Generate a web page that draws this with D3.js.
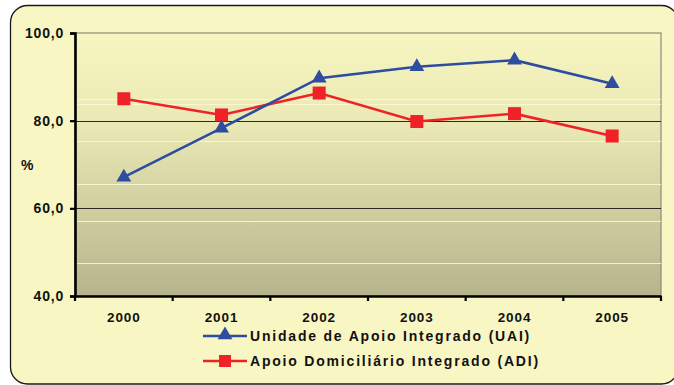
<!DOCTYPE html>
<html>
<head>
<meta charset="utf-8">
<script src="https://cdn.jsdelivr.net/npm/d3@7"></script>
<style>
  html, body { margin: 0; padding: 0; background: #ffffff; }
  svg { display: block; }
  text { font-family: Arial, "Liberation Sans", sans-serif; font-weight: bold; fill: #111; }
</style>
</head>
<body>
<svg id="chart" width="674" height="385"></svg>
<script>
// Years shown on the category axis
const years = ["2000", "2001", "2002", "2003", "2004", "2005"];
// Percentage for each service, one value per year
const uaiValues = [67.1, 78.3, 89.7, 92.3, 93.8, 88.4];
const adiValues = [85.0, 81.3, 86.3, 79.8, 81.6, 76.5];
// Series names used in the legend
const seriesNames = ["Unidade de Apoio Integrado (UAI)", "Apoio Domiciliário Integrado (ADI)"];
// Y-axis ticks
const yTicks = [40, 60, 80, 100];
// Light stripe lines inside the plot background
const stripeLevels = [84.9, 83.8, 75.4, 65.6, 57.2, 47.6];

const svg = d3.select("#chart");
const W = 674, H = 385;
const margin = { left: 75, right: 13, top: 33, bottom: 89 };
const plotW = W - margin.left - margin.right;
const plotH = H - margin.top - margin.bottom;

// Outer frame
svg.append("rect")
  .attr("x", 10.5).attr("y", 5.5)
  .attr("width", 668).attr("height", 378.5)
  .attr("rx", 17).attr("ry", 17)
  .attr("fill", "#f8f6c2")
  .attr("stroke", "#1a1a1a").attr("stroke-width", 1.3);

const defs = svg.append("defs");
const grad = defs.append("linearGradient")
  .attr("id", "plotFill").attr("x1", 0).attr("y1", 0).attr("x2", 0).attr("y2", 1);
grad.append("stop").attr("offset", "0%").attr("stop-color", "#f7f5c0");
grad.append("stop").attr("offset", "35%").attr("stop-color", "#eae8b4");
grad.append("stop").attr("offset", "100%").attr("stop-color", "#b6b48c");

const g = svg.append("g").attr("transform", `translate(${margin.left},${margin.top})`);

const x = d3.scaleBand().domain(years).range([0, plotW]);
const y = d3.scaleLinear().domain([40, 100]).range([plotH, 0]);

// Plot background
g.append("rect")
  .attr("x", 0).attr("y", 0).attr("width", plotW).attr("height", plotH)
  .attr("fill", "url(#plotFill)")
  .attr("stroke", "#8a8a80").attr("stroke-width", 1.2);

// Light stripes
g.selectAll("line.stripe").data(stripeLevels).join("line")
  .attr("class", "stripe")
  .attr("x1", 0).attr("x2", plotW)
  .attr("y1", d => Math.round(y(d)) + 0.5).attr("y2", d => Math.round(y(d)) + 0.5)
  .attr("stroke", "#fbf9d6").attr("stroke-opacity", 0.85).attr("stroke-width", 1);

// Major gridlines
g.selectAll("line.grid").data([60, 80]).join("line")
  .attr("class", "grid")
  .attr("x1", 0).attr("x2", plotW)
  .attr("y1", d => Math.round(y(d)) + 0.5).attr("y2", d => Math.round(y(d)) + 0.5)
  .attr("stroke", "#2a2a22").attr("stroke-width", 1);

// Y axis
const yAxis = g.append("g")
  .call(d3.axisLeft(y).tickValues(yTicks).tickSize(5).tickPadding(6)
    .tickFormat(d => d3.format(".1f")(d).replace(".", ",")));
yAxis.select(".domain").attr("stroke", "#000").attr("stroke-width", 2.6);
yAxis.selectAll(".tick line").attr("stroke", "#000").attr("stroke-width", 2.2);
yAxis.selectAll(".tick text").style("font-size", "14px").style("letter-spacing", "0.8px").attr("fill", "#111");

// X axis
const xAxis = g.append("g").attr("transform", `translate(0,${plotH})`)
  .call(d3.axisBottom(x).tickSize(0).tickPadding(16));
xAxis.select(".domain").attr("stroke", "#000").attr("stroke-width", 2.6);
xAxis.selectAll(".tick text").style("font-size", "13.5px").style("letter-spacing", "0.9px").attr("fill", "#111");
// Tick marks between categories
const boundaries = years.map(d => x(d)).concat([plotW]);
xAxis.selectAll("line.cat").data(boundaries).join("line")
  .attr("class", "cat")
  .attr("x1", d => d).attr("x2", d => d)
  .attr("y1", 0).attr("y2", 5)
  .attr("stroke", "#000").attr("stroke-width", 2.2);

// Y axis title
svg.append("text").attr("x", 21).attr("y", 170)
  .style("font-size", "14px").text("%");

const cx = d => x(d) + x.bandwidth() / 2;
const line = d3.line().x(d => cx(d.year)).y(d => y(d.value));

const uai = years.map((yr, i) => ({ year: yr, value: uaiValues[i] }));
const adi = years.map((yr, i) => ({ year: yr, value: adiValues[i] }));

const blue = "#2f4d9f", red = "#ee2227";
const tri = d3.symbol().type(d3.symbolTriangle).size(95);

// ADI series
g.append("path").datum(adi).attr("d", line)
  .attr("fill", "none").attr("stroke", red).attr("stroke-width", 2.6);
g.selectAll("rect.adi").data(adi).join("rect")
  .attr("class", "adi")
  .attr("x", d => cx(d.year) - 6.5).attr("y", d => y(d.value) - 6.5)
  .attr("width", 13).attr("height", 13).attr("fill", red);

// UAI series
g.append("path").datum(uai).attr("d", line)
  .attr("fill", "none").attr("stroke", blue).attr("stroke-width", 2.6);
g.selectAll("path.uai").data(uai).join("path")
  .attr("class", "uai")
  .attr("d", tri)
  .attr("transform", d => `translate(${cx(d.year)},${y(d.value)})`)
  .attr("fill", blue);

// Legend
const legend = svg.append("g");
const legendRows = [
  { name: seriesNames[0], color: blue, marker: "tri", y: 336 },
  { name: seriesNames[1], color: red, marker: "sq", y: 361 }
];
legendRows.forEach(r => {
  legend.append("line")
    .attr("x1", 203).attr("x2", 247).attr("y1", r.y).attr("y2", r.y)
    .attr("stroke", r.color).attr("stroke-width", 2.6);
  if (r.marker === "tri") {
    legend.append("path").attr("d", tri)
      .attr("transform", `translate(225,${r.y - 1})`).attr("fill", r.color);
  } else {
    legend.append("rect").attr("x", 219).attr("y", r.y - 6)
      .attr("width", 12).attr("height", 12).attr("fill", r.color);
  }
  legend.append("text").attr("x", 250).attr("y", r.y + 5)
    .style("font-size", "14px").style("letter-spacing", "1.8px")
    .text(r.name);
});
</script>
</body>
</html>
